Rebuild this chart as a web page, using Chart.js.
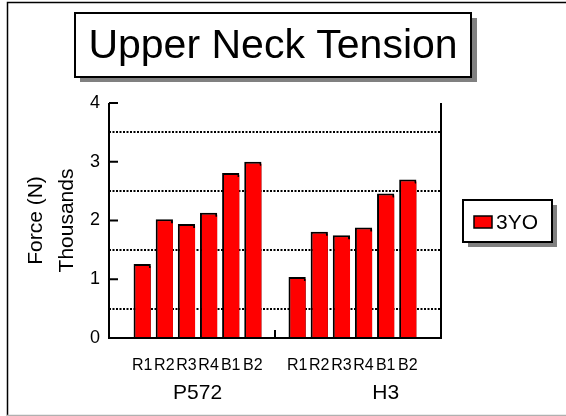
<!DOCTYPE html>
<html>
<head>
<meta charset="utf-8">
<script src="https://cdn.jsdelivr.net/npm/chart.js@4/dist/chart.umd.min.js"></script>
<style>
  html, body { margin: 0; padding: 0; background: #fff; }
  #wrap { width: 566px; height: 416px; position: relative; }
</style>
</head>
<body>
<div id="wrap"><canvas id="c" width="566" height="416"></canvas></div>
<script>
// ---- data ----
const chartTitle = 'Upper Neck Tension';
const seriesName = '3YO';
const categories = ['', 'R1', 'R2', 'R3', 'R4', 'B1', 'B2', '', 'R1', 'R2', 'R3', 'R4', 'B1', 'B2', ''];
const groupNames = ['P572', 'H3'];
const groupLabelAnchor = [3.5, 12];      // category index where each group name sits
const dividerIndex = 7;                   // category index of the group divider tick
const p572Values = [1.26, 2.02, 1.94, 2.13, 2.81, 3.00];
const h3Values = [1.04, 1.81, 1.75, 1.88, 2.46, 2.70];
const yTickLabels = ['0', '1', '2', '3', '4'];
const yTitleLines = ['Force (N)', 'Thousands'];

const values = [null].concat(p572Values, [null], h3Values, [null]);
const FONT = "'Liberation Sans', Arial, Helvetica, sans-serif";

const decor = {
  id: 'decor',
  beforeDatasetsDraw(chart) {
    const ctx = chart.ctx;
    ctx.save();
    ctx.shadowColor = '#ff0000';
    ctx.shadowOffsetX = 2;
    ctx.shadowOffsetY = 2;
    ctx.shadowBlur = 0;
  },
  afterDatasetsDraw(chart) {
    chart.ctx.restore();
  },
  afterDraw(chart) {
    const ctx = chart.ctx;
    const a = chart.chartArea;
    const xs = chart.scales.x, ys = chart.scales.y;
    ctx.save();
    // outer frame
    ctx.strokeStyle = '#000'; ctx.lineWidth = 1.5;
    ctx.beginPath(); ctx.moveTo(7.5, 416); ctx.lineTo(7.5, 2.5); ctx.lineTo(566, 2.5); ctx.stroke();
    ctx.strokeStyle = '#b0b0b0'; ctx.lineWidth = 1.5;
    ctx.beginPath(); ctx.moveTo(7, 415.5); ctx.lineTo(566, 415.5); ctx.stroke();

    // axis lines
    ctx.strokeStyle = '#000'; ctx.lineWidth = 2;
    ctx.beginPath();
    ctx.moveTo(a.left, a.top); ctx.lineTo(a.left, a.bottom); ctx.lineTo(a.right, a.bottom); ctx.lineTo(a.right, a.top);
    ctx.stroke();
    // inward major ticks
    ctx.beginPath();
    yTickLabels.forEach(t => {
      const y = ys.getPixelForValue(Number(t));
      ctx.moveTo(a.left, y); ctx.lineTo(a.left + 9, y);
    });
    // group divider tick
    const dx = xs.getPixelForValue(dividerIndex);
    ctx.moveTo(dx, a.bottom); ctx.lineTo(dx, a.bottom - 8);
    ctx.stroke();

    // group labels
    ctx.fillStyle = '#000';
    ctx.font = '21px ' + FONT;
    ctx.textAlign = 'center'; ctx.textBaseline = 'alphabetic';
    groupNames.forEach((g, i) => {
      ctx.fillText(g, xs.getPixelForValue(groupLabelAnchor[i]), 399);
    });

    // y axis titles
    ctx.font = '21px ' + FONT;
    ctx.textBaseline = 'middle';
    const cy = (a.top + a.bottom) / 2;
    [36, 67].forEach((x, i) => {
      ctx.save();
      ctx.translate(x, cy);
      ctx.rotate(-Math.PI / 2);
      ctx.fillText(yTitleLines[i], 0, 0);
      ctx.restore();
    });

    // title box
    ctx.fillStyle = '#808080';
    ctx.fillRect(80, 18, 397, 64);
    ctx.fillStyle = '#fff';
    ctx.fillRect(75, 13, 396, 64);
    ctx.strokeStyle = '#000'; ctx.lineWidth = 2;
    ctx.strokeRect(75, 13, 396, 64);
    ctx.fillStyle = '#000';
    ctx.font = '41px ' + FONT;
    ctx.textAlign = 'center'; ctx.textBaseline = 'alphabetic';
    ctx.fillText(chartTitle, 273, 58);

    // legend box
    const ds = chart.data.datasets[0];
    ctx.fillStyle = '#808080';
    ctx.fillRect(468, 205, 89, 42);
    ctx.fillStyle = '#fff';
    ctx.fillRect(463, 200, 89, 42);
    ctx.strokeStyle = '#000'; ctx.lineWidth = 2;
    ctx.strokeRect(463, 200, 89, 42);
    ctx.fillStyle = ds.backgroundColor;
    ctx.fillRect(474, 216, 18, 12);
    ctx.lineWidth = 1.5;
    ctx.strokeRect(474, 216, 18, 12);
    ctx.fillStyle = '#000';
    ctx.font = '21px ' + FONT;
    ctx.textAlign = 'left'; ctx.textBaseline = 'middle';
    ctx.fillText(ds.label, 496, 223);
    ctx.restore();
  }
};

new Chart(document.getElementById('c'), {
  type: 'bar',
  data: {
    labels: categories,
    datasets: [{
      label: seriesName,
      data: values,
      backgroundColor: '#ff0000',
      borderColor: '#000000',
      borderWidth: 2,
      barPercentage: 0.78,
      categoryPercentage: 1.0
    }]
  },
  options: {
    responsive: false,
    animation: false,
    devicePixelRatio: 1,
    layout: { padding: { left: 49, right: 125, top: 103, bottom: 8 } },
    plugins: { legend: { display: false }, title: { display: false }, tooltip: { enabled: false } },
    scales: {
      x: {
        type: 'category',
        offset: true,
        grid: { display: false, drawTicks: false },
        border: { display: false },
        ticks: { autoSkip: false, maxRotation: 0, minRotation: 0, color: '#000', padding: 18, font: { family: FONT, size: 16 } },
        afterFit: s => { s.height = 70; }
      },
      y: {
        min: 0, max: 4,
        grid: {
          drawTicks: false,
          lineWidth: 2,
          color: c => (c.tick && c.tick.value % 1 !== 0) ? '#000' : 'rgba(0,0,0,0)'
        },
        border: { display: false, dash: [2, 1.5] },
        ticks: {
          stepSize: 0.5,
          color: '#000',
          padding: 9,
          font: { family: FONT, size: 18 },
          callback: v => yTickLabels.includes(String(v)) ? String(v) : ''
        },
        afterFit: s => { s.width = 60; }
      }
    }
  },
  plugins: [decor]
});
</script>
</body>
</html>
